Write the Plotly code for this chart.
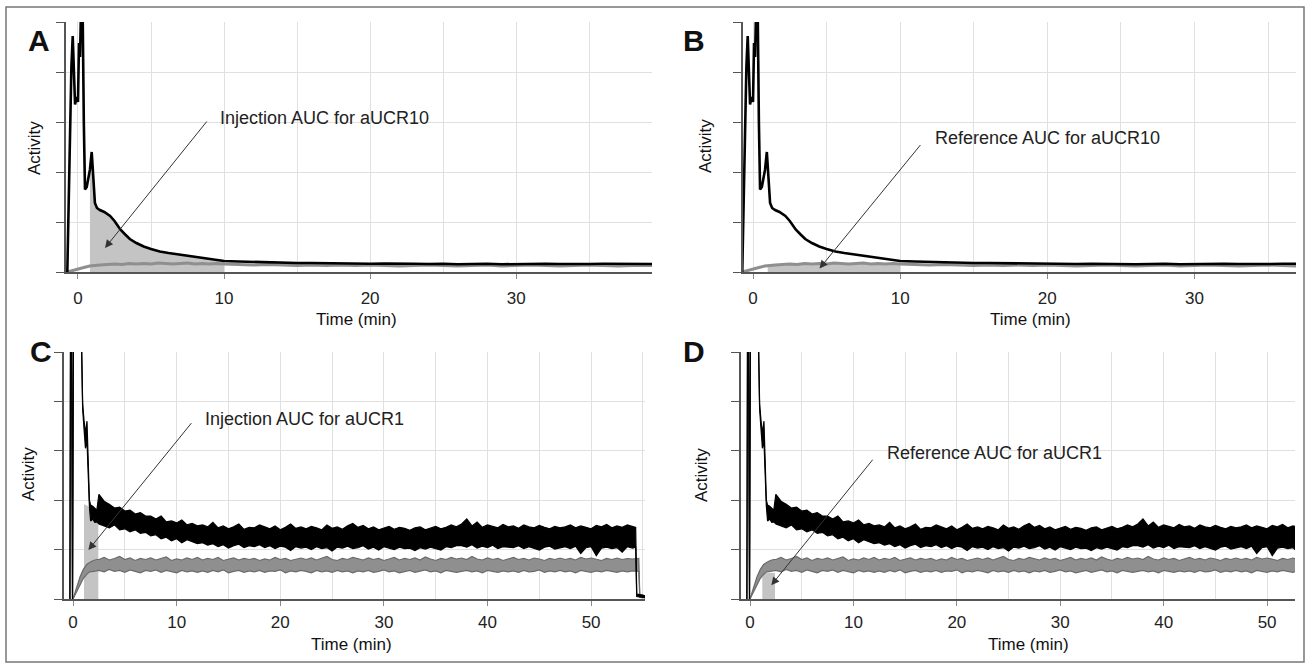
import numpy as np
import plotly.graph_objects as go

W, H = 1308, 665
FONT = "Liberation Sans, Arial, sans-serif"

# ---------------- aUCR10 (panels A and B) ----------------
# time (min) and activity (grid units, 0-5 shown)
r10_inj_t = [-0.73, -0.6, -0.45, -0.36, -0.28, -0.2, -0.1, 0.0, 0.07, 0.14,
             0.24, 0.32, 0.4, 0.48, 0.6, 0.72, 0.82, 0.94, 1.05, 1.16,
             1.3, 1.5, 1.8, 2.2, 2.5, 2.9, 3.2, 3.55, 4.0, 4.5,
             5.0, 5.6, 6.2, 6.9, 7.5, 8.4, 9.2, 10.0,
             11, 12, 13, 14, 15, 16, 17, 18, 19, 20,
             21, 22, 23, 24, 25, 26, 27, 28, 29, 30,
             31, 32, 33, 34, 35, 36, 37, 38, 39, 39.5]
r10_inj = [0.0, 2.1, 4.1, 4.72, 3.9, 3.35, 3.5, 3.4, 4.58, 4.3,
           5.7, 5.2, 3.0, 1.65, 1.7, 1.9, 2.05, 2.4, 1.85, 1.38,
           1.28, 1.24, 1.2, 1.12, 1.02, 0.85, 0.76, 0.66, 0.58, 0.51,
           0.46, 0.41, 0.38, 0.35, 0.32, 0.28, 0.25, 0.22,
           0.21, 0.2, 0.19, 0.19, 0.18, 0.18, 0.175, 0.17, 0.17, 0.165,
           0.17, 0.16, 0.165, 0.16, 0.165, 0.155, 0.16, 0.165, 0.155, 0.16,
           0.155, 0.165, 0.16, 0.155, 0.16, 0.165, 0.16, 0.155, 0.16, 0.16]

r10_ref_t = [-0.73, -0.4, 0.0, 0.4, 0.8, 1.0, 1.5, 2.0, 2.5, 3.0,
             3.5, 4.0, 4.5, 5.0, 5.5, 6.0, 6.5, 7.0, 7.5, 8.0,
             8.5, 9.0, 9.5, 10.0,
             11, 12, 13, 14, 15, 16, 17, 18, 19, 20,
             21, 22, 23, 24, 25, 26, 27, 28, 29, 30,
             31, 32, 33, 34, 35, 36, 37, 38, 39, 39.5]
r10_ref = [0.0, 0.03, 0.06, 0.09, 0.12, 0.13, 0.14, 0.15, 0.16, 0.15,
           0.17, 0.16, 0.17, 0.16, 0.18, 0.17, 0.16, 0.17, 0.18, 0.16,
           0.17, 0.16, 0.17, 0.16,
           0.15, 0.14, 0.15, 0.14, 0.13, 0.14, 0.13, 0.14, 0.13, 0.14,
           0.13, 0.12, 0.13, 0.14, 0.13, 0.12, 0.13, 0.14, 0.12, 0.13,
           0.14, 0.13, 0.12, 0.13, 0.14, 0.13, 0.12, 0.13, 0.14, 0.13]

# AUC windows (min)
auc_a = [0.82, 10.0]
auc_b = [1.0, 10.0]

# ---------------- aUCR1 (panels C and D) ----------------
# noisy traces stored as lower / upper edge of the trace
r1_grid = list(np.arange(2.5, 54.01, 0.5))

r1_inj_t_start = [-0.3, -0.2, -0.05, 0.1, 0.5, 0.84, 0.93, 1.06, 1.2, 1.35,
                  1.45, 1.58, 1.7, 1.9, 2.1, 2.3]
r1_inj_lo_start = [0, 9, 0, 9, 9, 5.0, 3.85, 3.45, 3.05, 3.2,
                   2.6, 1.88, 1.58, 1.62, 1.55, 1.56]
r1_inj_hi_start = [0, 9, 0, 9, 9, 5.0, 3.95, 3.62, 3.35, 3.6,
                   2.75, 2.0, 1.9, 1.88, 1.84, 1.80]
r1_inj_hi_grid = [
    2.12, 1.98, 1.92, 1.84, 1.86, 1.78, 1.80, 1.72, 1.75, 1.68,
    1.68, 1.62, 1.68, 1.56, 1.58, 1.54, 1.60, 1.50, 1.53, 1.48,
    1.50, 1.46, 1.55, 1.44, 1.48, 1.42, 1.46, 1.52, 1.41, 1.45,
    1.44, 1.50, 1.46, 1.42, 1.48, 1.40, 1.45, 1.52, 1.43, 1.46,
    1.42, 1.47, 1.44, 1.40, 1.50, 1.43, 1.46, 1.41, 1.48, 1.53,
    1.45, 1.49, 1.42, 1.46, 1.40, 1.44, 1.47, 1.41, 1.45, 1.43,
    1.39, 1.44, 1.46, 1.40, 1.43, 1.47, 1.42, 1.45, 1.50, 1.46,
    1.52, 1.62, 1.48, 1.56, 1.45, 1.50, 1.47, 1.44, 1.51, 1.46,
    1.48, 1.43, 1.50, 1.46, 1.44, 1.49, 1.45, 1.42, 1.47, 1.44,
    1.46, 1.50, 1.44, 1.48, 1.45, 1.42, 1.49, 1.46, 1.51, 1.44,
    1.48, 1.45, 1.50, 1.47]
r1_inj_lo_grid = [
    1.52, 1.48, 1.44, 1.50, 1.40, 1.42, 1.36, 1.40, 1.33, 1.35,
    1.28, 1.30, 1.22, 1.25, 1.18, 1.22, 1.14, 1.20, 1.16, 1.12,
    1.14, 1.09, 1.12, 1.06, 1.10, 1.03, 1.08, 1.11, 1.04, 1.08,
    1.06, 1.10, 1.04, 1.08, 1.02, 1.07, 1.05, 0.98, 1.06, 1.03,
    1.05, 1.00, 1.06, 1.02, 1.04, 0.97, 1.05, 1.03, 1.07, 1.02,
    1.04, 1.08, 1.01, 1.05, 0.99, 1.06, 1.03, 1.00, 1.05, 1.02,
    1.03, 0.98, 1.04, 1.01, 1.05, 1.02, 0.99, 1.06, 1.04, 1.08,
    1.08, 1.05, 1.10, 1.03, 1.07, 1.04, 1.09, 1.02, 1.06, 1.05,
    1.04, 1.08, 1.02, 1.06, 1.03, 0.99, 1.05, 1.07, 1.01, 1.04,
    1.06, 1.02, 1.07, 0.92, 1.04, 1.06, 0.88, 1.03, 1.05, 1.02,
    1.04, 0.95, 1.06, 1.03]
r1_inj_t_end = [54.3, 54.4, 55.0, 55.4]
r1_inj_lo_end = [1.05, 0.05, 0.03, 0.02]
r1_inj_hi_end = [1.45, 0.10, 0.08, 0.05]

r1_ref_t_start = [0.0, 0.3, 0.68, 1.0, 1.32, 1.6, 1.96, 2.3]
r1_ref_lo_start = [0, 0.12, 0.30, 0.42, 0.50, 0.55, 0.56, 0.58]
r1_ref_hi_start = [0, 0.22, 0.45, 0.60, 0.70, 0.74, 0.78, 0.80]
r1_ref_hi_grid = [
    0.80, 0.84, 0.79, 0.82, 0.86, 0.80, 0.83, 0.78, 0.82, 0.80,
    0.83, 0.79, 0.82, 0.85, 0.78, 0.81, 0.79, 0.83, 0.80, 0.84,
    0.79, 0.82, 0.80, 0.84, 0.78, 0.81, 0.83, 0.79, 0.82, 0.80,
    0.82, 0.78, 0.81, 0.79, 0.84, 0.80, 0.82, 0.78, 0.81, 0.83,
    0.80, 0.83, 0.79, 0.82, 0.86, 0.80, 0.78, 0.82, 0.80, 0.84,
    0.81, 0.79, 0.83, 0.80, 0.82, 0.78, 0.81, 0.84, 0.79, 0.82,
    0.80, 0.83, 0.79, 0.85, 0.81, 0.78, 0.82, 0.80, 0.84, 0.81,
    0.83, 0.80, 0.86, 0.81, 0.79, 0.83, 0.80, 0.82, 0.78, 0.81,
    0.84, 0.80, 0.82, 0.79, 0.83, 0.81, 0.78, 0.82, 0.80, 0.83,
    0.80, 0.82, 0.79, 0.84, 0.81, 0.83, 0.80, 0.78, 0.82, 0.80,
    0.83, 0.80, 0.82, 0.81]
r1_ref_lo_grid = [
    0.58, 0.55, 0.60, 0.56, 0.58, 0.54, 0.59, 0.56, 0.53, 0.58,
    0.56, 0.59, 0.54, 0.58, 0.56, 0.53, 0.58, 0.55, 0.57, 0.54,
    0.57, 0.54, 0.58, 0.55, 0.59, 0.53, 0.56, 0.58, 0.54, 0.57,
    0.55, 0.58, 0.54, 0.57, 0.56, 0.59, 0.53, 0.57, 0.55, 0.58,
    0.56, 0.53, 0.58, 0.55, 0.57, 0.54, 0.58, 0.55, 0.57, 0.53,
    0.57, 0.55, 0.58, 0.54, 0.56, 0.59, 0.55, 0.57, 0.53, 0.56,
    0.58, 0.54, 0.56, 0.59, 0.55, 0.57, 0.53, 0.58, 0.56, 0.54,
    0.56, 0.58, 0.55, 0.57, 0.53, 0.58, 0.56, 0.54, 0.57, 0.55,
    0.57, 0.54, 0.58, 0.55, 0.56, 0.59, 0.54, 0.57, 0.55, 0.58,
    0.55, 0.57, 0.53, 0.58, 0.56, 0.54, 0.57, 0.55, 0.58, 0.56,
    0.54, 0.57, 0.55, 0.57]
r1_ref_t_end = [54.6, 54.7, 55.4]
r1_ref_lo_end = [0.56, 0.03, 0.02]
r1_ref_hi_end = [0.82, 0.06, 0.05]

# AUC shading for panels C and D
auc_c_t = [1.06, 1.3, 1.6, 2.0, 2.44]
auc_c_top = [1.92, 1.90, 1.85, 1.62, 1.56]
auc_d_t = [1.19, 1.8, 2.42]
auc_d_top = [0.53, 0.53, 0.53]

r1_inj_t = r1_inj_t_start + r1_grid + r1_inj_t_end
r1_inj_lo = r1_inj_lo_start + r1_inj_lo_grid + r1_inj_lo_end
r1_inj_hi = r1_inj_hi_start + r1_inj_hi_grid + r1_inj_hi_end
r1_ref_t = r1_ref_t_start + r1_grid + r1_ref_t_end
r1_ref_lo = r1_ref_lo_start + r1_ref_lo_grid + r1_ref_lo_end
r1_ref_hi = r1_ref_hi_start + r1_ref_hi_grid + r1_ref_hi_end

SHADE = "#c4c4c4"
GRAY = "#8f8f8f"
GRAY_EDGE = "#6a6a6a"

fig = go.Figure()


def px_x(p):
    return p / W


def px_y(p):
    return 1 - p / H


def line(t, y, color, width, ax):
    fig.add_trace(go.Scatter(x=t, y=y, mode="lines", line=dict(color=color, width=width),
                             xaxis="x" + ax, yaxis="y" + ax, hoverinfo="skip", showlegend=False))


def band(t, lo, hi, fill, edge, ax):
    fig.add_trace(go.Scatter(x=t, y=lo, mode="lines", line=dict(color=edge, width=1.2),
                             xaxis="x" + ax, yaxis="y" + ax, hoverinfo="skip", showlegend=False))
    fig.add_trace(go.Scatter(x=t, y=hi, mode="lines", line=dict(color=edge, width=1.2),
                             fill="tonexty", fillcolor=fill,
                             xaxis="x" + ax, yaxis="y" + ax, hoverinfo="skip", showlegend=False))


def shade(t, top, ax):
    fig.add_trace(go.Scatter(x=t, y=top, mode="lines", line=dict(width=0, color=SHADE),
                             fill="tozeroy", fillcolor=SHADE,
                             xaxis="x" + ax, yaxis="y" + ax, hoverinfo="skip", showlegend=False))


def window(t, y, lims):
    t = np.array(t)
    y = np.array(y)
    m = (t >= lims[0]) & (t <= lims[1])
    return t[m], y[m]


# Panel A (axes 1): injection AUC
ta, ya = window(r10_inj_t, r10_inj, auc_a)
shade(ta, ya, "")
line(r10_ref_t, r10_ref, GRAY, 3, "")
line(r10_inj_t, r10_inj, "black", 2.6, "")

# Panel B (axes 2): reference AUC
tb, yb = window(r10_ref_t, r10_ref, auc_b)
shade(tb, yb, "2")
line(r10_ref_t, r10_ref, GRAY, 3, "2")
line(r10_inj_t, r10_inj, "black", 2.6, "2")

# Panel C (axes 3)
shade(auc_c_t, auc_c_top, "3")
band(r1_ref_t, r1_ref_lo, r1_ref_hi, GRAY, GRAY_EDGE, "3")
band(r1_inj_t, r1_inj_lo, r1_inj_hi, "black", "black", "3")

# Panel D (axes 4)
shade(auc_d_t, auc_d_top, "4")
band(r1_ref_t, r1_ref_lo, r1_ref_hi, GRAY, GRAY_EDGE, "4")
band(r1_inj_t, r1_inj_lo, r1_inj_hi, "black", "black", "4")

GRID = "#e0e0e0"


def xax(left, right, rng, anchor, standoff):
    return dict(domain=[px_x(left), px_x(right)], range=rng, anchor=anchor,
                tick0=0, dtick=10, ticks="outside", ticklen=5, tickcolor="#888",
                ticklabelstandoff=standoff,
                showgrid=True, gridcolor=GRID, gridwidth=1,
                minor=dict(tick0=0, dtick=5, showgrid=True, gridcolor=GRID, gridwidth=1),
                showline=True, linecolor="#555", linewidth=1.5, zeroline=False,
                tickfont=dict(family=FONT, size=17, color="#222"))


def yax(top, bottom, anchor):
    return dict(domain=[px_y(bottom), px_y(top)], range=[0, 5], anchor=anchor,
                tick0=0, dtick=1, ticks="outside", ticklen=8, tickcolor="#555",
                showticklabels=False, showgrid=True, gridcolor=GRID, gridwidth=1,
                showline=True, linecolor="#555", linewidth=1.5, zeroline=False)


annotations = []


def text(x, y, s, size=17, bold=False, angle=0):
    annotations.append(dict(x=px_x(x), y=px_y(y), xref="paper", yref="paper",
                            text="<b>%s</b>" % s if bold else s, showarrow=False,
                            textangle=angle, xanchor="center", yanchor="middle",
                            font=dict(family=FONT, size=size, color="#111")))


def label(ax, x, y, s, head, tail):
    annotations.append(dict(x=x, y=y, xref="x" + ax, yref="y" + ax, text=s, showarrow=False,
                            xanchor="left", yanchor="middle",
                            font=dict(family=FONT, size=18, color="#222")))
    annotations.append(dict(x=head[0], y=head[1], xref="x" + ax, yref="y" + ax,
                            ax=tail[0], ay=tail[1], axref="x" + ax, ayref="y" + ax,
                            text="", showarrow=True, arrowhead=2, arrowsize=1.6,
                            arrowwidth=1, arrowcolor="#333"))


# panel letters
text(39, 40, "A", size=30, bold=True)
text(694, 40, "B", size=30, bold=True)
text(41, 352, "C", size=30, bold=True)
text(694, 352, "D", size=30, bold=True)

# axis titles
text(357, 319, "Time (min)")
text(1030, 319, "Time (min)")
text(352, 644, "Time (min)")
text(1028, 644, "Time (min)")
text(34, 148, "Activity", angle=-90)
text(705, 146, "Activity", angle=-90)
text(28, 474, "Activity", angle=-90)
text(701, 475, "Activity", angle=-90)

# AUC callouts
label("", 9.6, 3.08, "Injection AUC for aUCR10", (1.85, 0.48), (8.9, 3.04))
label("2", 12.2, 2.68, "Reference AUC for aUCR10", (4.52, 0.07), (11.46, 2.57))
label("3", 12.57, 3.65, "Injection AUC for aUCR1", (1.48, 0.99), (11.54, 3.59))
label("4", 13.1, 2.95, "Reference AUC for aUCR1", (2.06, 0.28), (11.98, 2.85))

fig.update_layout(
    width=W, height=H, margin=dict(l=0, r=0, t=0, b=0),
    paper_bgcolor="white", plot_bgcolor="white", showlegend=False,
    font=dict(family=FONT, size=17, color="#222"),
    xaxis=xax(66, 652, [-0.82, 39.3], "y", 5),
    yaxis=yax(22, 272, "x"),
    xaxis2=xax(743, 1296, [-0.68, 36.9], "y2", 5),
    yaxis2=yax(22, 272, "x2"),
    xaxis3=xax(64, 645, [-0.87, 55.2], "y3", 2),
    yaxis3=yax(352, 599, "x3"),
    xaxis4=xax(741, 1295, [-0.87, 52.7], "y4", 2),
    yaxis4=yax(352, 599, "x4"),
    annotations=annotations,
    shapes=[dict(type="rect", xref="paper", yref="paper",
                 x0=px_x(6), x1=px_x(1304), y0=px_y(662), y1=px_y(7),
                 line=dict(color="#777", width=1.5))],
)

# the page body has a default 8px margin; drop it so the figure fills the window
fig.write_html("out.html", config={"displayModeBar": False},
               post_script="document.body.style.margin = '0';")
